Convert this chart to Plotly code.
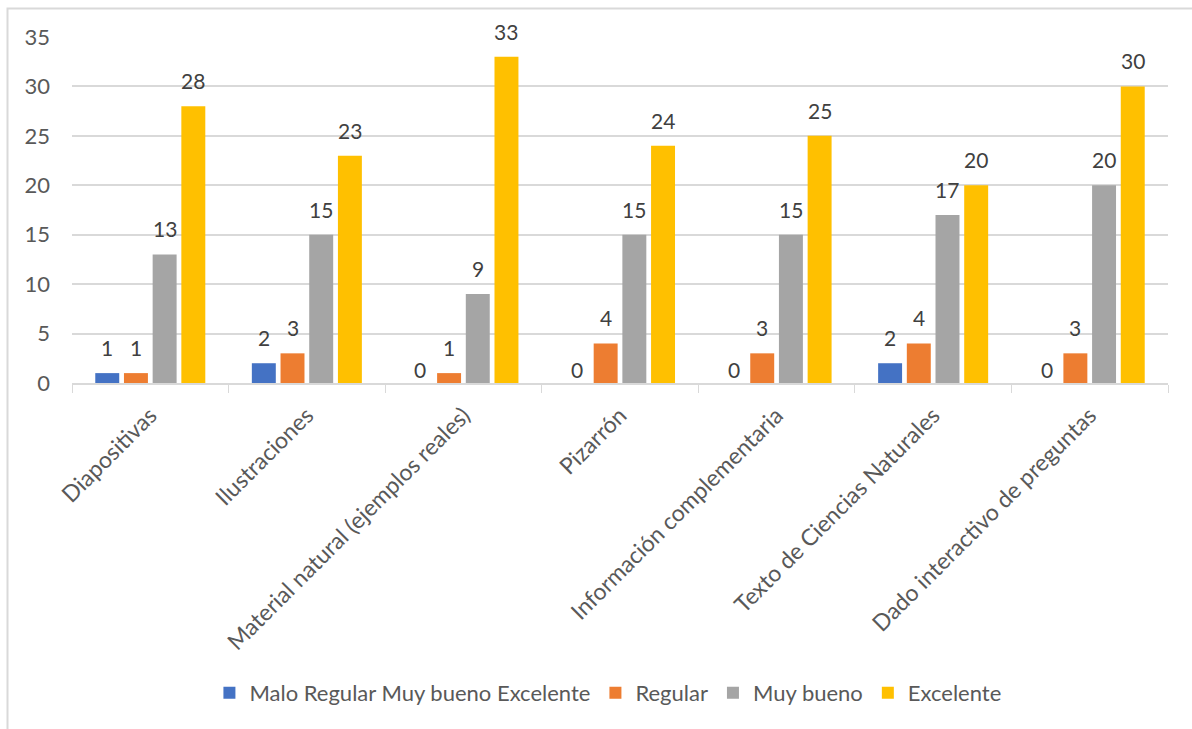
import plotly.graph_objects as go

categories = ["Diapositivas", "Ilustraciones", "Material natural (ejemplos reales)", "Pizarrón",
              "Información complementaria", "Texto de Ciencias Naturales", "Dado interactivo de preguntas"]
series_names = ["Malo Regular Muy bueno Excelente", "Regular", "Muy bueno", "Excelente"]
malo = [1, 2, 0, 0, 0, 2, 0]
regular = [1, 3, 1, 4, 3, 4, 3]
muy_bueno = [13, 15, 9, 15, 15, 17, 20]
excelente = [28, 23, 33, 24, 25, 20, 30]
colors = ["#4472C4", "#ED7D31", "#A5A5A5", "#FFC000"]
y_ticks = [0, 5, 10, 15, 20, 25, 30, 35]

FONT = "Lato"
L, R, T, B = 72, 24, 37, 346
W, H = 1192, 729
pw, ph = W - L - R, H - T - B
def px(x): return (x - L) / pw
def py(y): return (H - B - y) / ph

BARGAP, GROUPGAP = 0.267, 0.165
all_series = [malo, regular, muy_bueno, excelente]
cat_w = pw / len(categories)
slot = cat_w * (1 - BARGAP) / len(all_series)

fig = go.Figure()
annotations = []
for i, (name, vals, col) in enumerate(zip(series_names, all_series, colors)):
    fig.add_trace(go.Bar(
        x=categories, y=vals, name=name, marker=dict(color=col, line=dict(width=0)),
        cliponaxis=False,
    ))
    shift = (i - (len(all_series) - 1) / 2) * slot
    for c, v in zip(categories, vals):
        annotations.append(dict(
            x=c, y=v, xref="x", yref="y", text=str(v), showarrow=False,
            xanchor="center", yanchor="bottom", xshift=shift, yshift=11 if v else -1,
            font=dict(family=FONT, size=21, color="#404040"),
        ))

fig.update_layout(
    width=W, height=H, margin=dict(l=L, r=R, t=T, b=B, autoexpand=False),
    paper_bgcolor="white", plot_bgcolor="white",
    barmode="group", bargap=BARGAP, bargroupgap=GROUPGAP,
    font=dict(family=FONT, size=21, color="#595959"),
    showlegend=True,
    legend=dict(orientation="h", x=0.51, xanchor="center", xref="container",
                y=py(693), yanchor="middle", yref="paper",
                font=dict(family=FONT, size=22, color="#595959"),
                traceorder="normal", itemsizing="constant"),
    xaxis=dict(type="category", tickangle=-45, tickson="boundaries", ticks="outside",
               ticklen=8, tickcolor="#D9D9D9", showline=True, linecolor="#D9D9D9", linewidth=2,
               showgrid=False, automargin=False, ticklabelstandoff=8,
               tickfont=dict(family=FONT, size=23, color="#595959")),
    yaxis=dict(range=[0, 35], tickvals=y_ticks, showgrid=True, gridcolor="#D9D9D9", gridwidth=1.5,
               zeroline=False, showline=False, ticks="", ticklabelstandoff=21, automargin=False,
               tickfont=dict(family=FONT, size=22, color="#595959")),
    annotations=annotations,
    shapes=[dict(type="rect", xref="paper", yref="paper",
                 x0=px(7.5), x1=px(1220), y0=py(760), y1=py(8.5),
                 line=dict(color="#D9D9D9", width=2), fillcolor="rgba(0,0,0,0)", layer="below")],
)
fig.write_html("out.html")
